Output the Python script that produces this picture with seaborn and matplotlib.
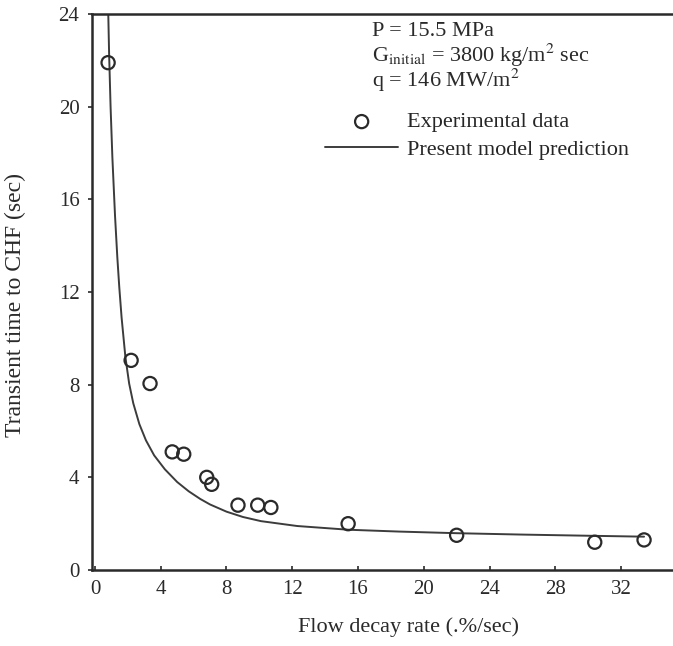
import seaborn as sns
import matplotlib.pyplot as plt
import pandas as pd

decay_rate = [0.8, 2.2, 3.35, 4.7, 5.4, 6.8, 7.1, 8.7, 9.9, 10.7, 15.4, 22.0, 30.4, 33.4]
transient_time = [21.9, 9.05, 8.05, 5.1, 5.0, 4.0, 3.7, 2.8, 2.8, 2.7, 2.0, 1.5, 1.2, 1.3]

# curva del modelo (puntos leidos sobre la linea)
model_x = [0.81, 0.86, 0.95, 1.06, 1.22, 1.36, 1.48, 1.62, 1.85, 2.08, 2.33, 2.7, 3.1, 3.6,
           4.25, 5.0, 5.7, 6.4, 7.0, 8.0, 9.0, 10.1, 12.3, 15.4, 18.5, 22.0, 26.0, 30.0, 33.4]
model_y = [24.0, 22.3, 20.0, 17.8, 15.3, 13.5, 12.2, 10.9, 9.2, 8.05, 7.2, 6.3, 5.6, 4.95,
           4.35, 3.8, 3.4, 3.07, 2.83, 2.52, 2.29, 2.11, 1.9, 1.74, 1.66, 1.59, 1.53, 1.48, 1.44]

x_ticks = [0, 4, 8, 12, 16, 20, 24, 28, 32]
y_ticks = [0, 4, 8, 12, 16, 20, 24]

exp = pd.DataFrame({'x': decay_rate, 'y': transient_time})
mod = pd.DataFrame({'x': model_x, 'y': model_y})

sns.set_style('ticks')
plt.rcParams['font.family'] = ['Liberation Serif', 'DejaVu Serif']
plt.rcParams['mathtext.fontset'] = 'stix'

ink = '#2a2a2a'
fig = plt.figure(figsize=(6.73, 6.46), dpi=100)
ax = fig.add_axes([0.1367, 0.1176, 0.8633, 0.8607])

sns.lineplot(data=mod, x='x', y='y', sort=False, color='#3c3c3c', lw=1.4,
             label='Present model prediction', ax=ax)
sns.scatterplot(data=exp, x='x', y='y', marker='o', s=90, facecolor='none',
                edgecolor=ink, linewidth=1.6, label='Experimental data', ax=ax, zorder=3)

ax.set_xlim(-0.18, 35.16)
ax.set_ylim(0, 24)
ax.set_xticks(x_ticks)
ax.set_yticks(y_ticks)
ax.tick_params(axis='x', direction='in', length=3, width=1.2, labelsize=15, pad=7, colors=ink)
ax.tick_params(axis='y', direction='out', length=3, width=1.2, labelsize=15, pad=6, colors=ink)
for s in ['left', 'bottom', 'top']:
    ax.spines[s].set_linewidth(1.8)
    ax.spines[s].set_color(ink)
ax.spines['right'].set_visible(False)

ax.set_xlabel('Flow decay rate (.%/sec)', fontsize=16, color=ink)
ax.xaxis.set_label_coords(0.544, -0.0845)
ax.set_ylabel('Transient time to CHF (sec)', fontsize=17, color=ink)
ax.yaxis.set_label_coords(-0.1136, 0.477)

ax.text(0.482, 0.969, 'P = 15.5 MPa', transform=ax.transAxes, va='center', fontsize=16, color=ink)
ax.text(0.482, 0.925, r'G$_{\mathrm{initial}}$ = 3800 kg/m$^{2}$ sec', transform=ax.transAxes,
        va='center', fontsize=16, color=ink)
ax.text(0.482, 0.881, r'q = 146 MW/m$^{2}$', transform=ax.transAxes, va='center',
        fontsize=16, color=ink)

h, l = ax.get_legend_handles_labels()
ax.legend(h[::-1], l[::-1], loc='upper left', bbox_to_anchor=(0.401, 0.824), frameon=False,
          fontsize=16, handlelength=3.3, handletextpad=0.4, labelspacing=0.3,
          borderpad=0, borderaxespad=0)

fig.savefig('out.png', dpi=100)
